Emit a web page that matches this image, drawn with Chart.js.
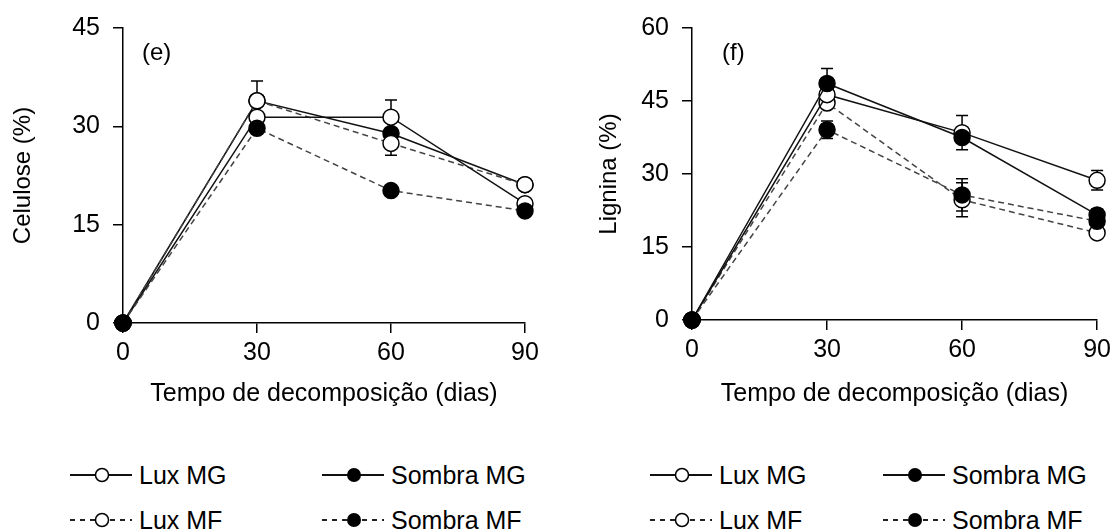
<!DOCTYPE html>
<html>
<head>
<meta charset="utf-8">
<title>Celulose e Lignina</title>
<script src="https://cdn.jsdelivr.net/npm/chart.js"></script>
<style>
  body { margin: 0; background: #fff; font-family: "Liberation Sans", Arial, sans-serif; color: #000; }
  #page { position: relative; width: 1116px; height: 532px; overflow: hidden; }
  canvas { position: absolute; top: 0; }
  .painel { position: absolute; font-size: 24px; }
  .leg { position: absolute; display: flex; align-items: center; font-size: 25px; height: 30px; }
  .leg svg { margin-right: 7px; }
</style>
</head>
<body>
<div id="page">
  <canvas id="celulose" width="560" height="420" style="left:0"></canvas>
  <canvas id="lignina" width="547" height="420" style="left:569px"></canvas>
  <div class="painel" style="left:142px; top:38px">(e)</div>
  <div class="painel" style="left:722px; top:38px">(f)</div>
  <div id="legendas"></div>
</div>

<script>
// tempo de decomposição (dias)
const dias = [0, 30, 60, 90];
const series = ['Lux MG', 'Sombra MG', 'Lux MF', 'Sombra MF'];

// (e) Celulose (%)
const celLuxMG = [0, 31.4, 31.4, 18.2];
const celSombraMG = [0, 33.9, 28.9, 21.1];
const celLuxMF = [0, 33.9, 27.4, 21.1];
const celSombraMF = [0, 29.7, 20.2, 17.1];
const celErrLuxMG = [0, 0.5, 2.6, 0.5];
const celErrSombraMG = [0, 3.0, 0.8, 0.5];
const celErrLuxMF = [0, 0.5, 1.8, 0.5];
const celErrSombraMF = [0, 0.8, 0.6, 0.5];

// (f) Lignina (%)
const ligLuxMG = [0, 46.3, 38.5, 28.7];
const ligSombraMG = [0, 48.6, 37.5, 21.6];
const ligLuxMF = [0, 44.6, 24.7, 17.9];
const ligSombraMF = [0, 39.1, 25.7, 20.3];
const ligErrLuxMG = [0, 1.0, 3.5, 2.0];
const ligErrSombraMG = [0, 3.1, 1.0, 1.2];
const ligErrLuxMF = [0, 1.0, 3.5, 0.8];
const ligErrSombraMF = [0, 1.8, 3.3, 1.0];

Chart.defaults.font.family = "'Liberation Sans', Arial, sans-serif";
Chart.defaults.color = '#000';

// barras de erro desenhadas pelas escalas do grafico
const barrasErro = {
  id: 'barrasErro',
  beforeDatasetsDraw(chart) {
    const ctx = chart.ctx;
    const x = chart.scales.x, y = chart.scales.y;
    ctx.save();
    ctx.strokeStyle = '#000';
    ctx.lineWidth = 1.5;
    chart.data.datasets.forEach(ds => {
      ds.data.forEach((p, i) => {
        const e = ds.erros[i];
        if (!e) return;
        const px = x.getPixelForValue(p.x);
        const topo = y.getPixelForValue(p.y + e);
        const base = y.getPixelForValue(p.y - e);
        ctx.beginPath();
        ctx.moveTo(px, topo); ctx.lineTo(px, base);
        ctx.moveTo(px - 6, topo); ctx.lineTo(px + 6, topo);
        ctx.moveTo(px - 6, base); ctx.lineTo(px + 6, base);
        ctx.stroke();
      });
    });
    ctx.restore();
  }
};

function serie(valores, erros, aberto, tracejado, ordem) {
  return {
    data: valores.map((v, i) => ({ x: dias[i], y: v })),
    erros: erros,
    order: ordem,
    borderColor: tracejado ? '#444' : '#111',
    borderWidth: 1.5,
    borderDash: tracejado ? [6, 4] : [],
    pointRadius: 8,
    pointBorderWidth: 1.5,
    pointBorderColor: '#000',
    pointBackgroundColor: aberto ? '#fff' : '#000',
    tension: 0,
    clip: false
  };
}

function grafico(id, datasets, ymax, titulo, direita, alturaX, tituloPad) {
  return new Chart(document.getElementById(id), {
    type: 'line',
    data: { datasets: datasets },
    plugins: [barrasErro],
    options: {
      responsive: false,
      animation: false,
      layout: { padding: { left: 0, right: direita, top: 25, bottom: 0 } },
      plugins: { legend: { display: false }, tooltip: { enabled: false } },
      scales: {
        x: {
          type: 'linear', min: 0, max: 90,
          ticks: { stepSize: 30, padding: 5, font: { size: 25 } },
          grid: { drawOnChartArea: false, tickLength: 10, color: '#000', lineWidth: 1.5 },
          border: { color: '#000', width: 1.5 },
          title: { display: true, text: 'Tempo de decomposição (dias)', font: { size: 25 }, padding: { top: 0, bottom: 11 } },
          afterFit: s => { s.height = alturaX; }
        },
        y: {
          min: 0, max: ymax,
          ticks: { stepSize: 15, padding: 13, font: { size: 25 } },
          grid: { drawOnChartArea: false, tickLength: 10, color: '#000', lineWidth: 1.5 },
          border: { color: '#000', width: 1.5 },
          title: { display: true, text: titulo, font: { size: 24 }, padding: { top: tituloPad, bottom: 0 } },
          afterFit: s => { s.width = 123; }
        }
      }
    }
  });
}

grafico('celulose', [
  serie(celLuxMG, celErrLuxMG, true, false, 1),
  serie(celSombraMG, celErrSombraMG, false, false, 3),
  serie(celLuxMF, celErrLuxMF, true, true, 2),
  serie(celSombraMF, celErrSombraMF, false, true, 0)
], 45, 'Celulose (%)', 35, 97, 9);

grafico('lignina', [
  serie(ligLuxMG, ligErrLuxMG, true, false, 2),
  serie(ligSombraMG, ligErrSombraMG, false, false, 0),
  serie(ligLuxMF, ligErrLuxMF, true, true, 3),
  serie(ligSombraMF, ligErrSombraMF, false, true, 1)
], 60, 'Lignina (%)', 16, 100, 26);

// legendas (2 x 2) abaixo de cada painel
function simbolo(aberto, tracejado) {
  const linha = tracejado
    ? '<line x1="0" y1="10" x2="62" y2="10" stroke="#222" stroke-width="2" stroke-dasharray="5 5"/>'
    : '<line x1="0" y1="10" x2="62" y2="10" stroke="#111" stroke-width="2"/>';
  const circ = aberto
    ? '<circle cx="32" cy="10" r="6.5" fill="#fff" stroke="#000" stroke-width="1.5"/>'
    : '<circle cx="32" cy="10" r="7" fill="#000"/>';
  return '<svg width="62" height="20">' + linha + circ + '</svg>';
}
const legX = [[70, 322], [650, 883]];
const legY = [460, 505];
let html = '';
legX.forEach(cols => {
  series.forEach((nome, i) => {
    const col = i % 2, lin = Math.floor(i / 2);
    const aberto = nome.startsWith('Lux');
    const tracejado = nome.endsWith('MF');
    html += '<div class="leg" style="left:' + cols[col] + 'px; top:' + legY[lin] + 'px">' +
      simbolo(aberto, tracejado) + '<span>' + nome + '</span></div>';
  });
});
document.getElementById('legendas').innerHTML = html;
</script>
</body>
</html>
